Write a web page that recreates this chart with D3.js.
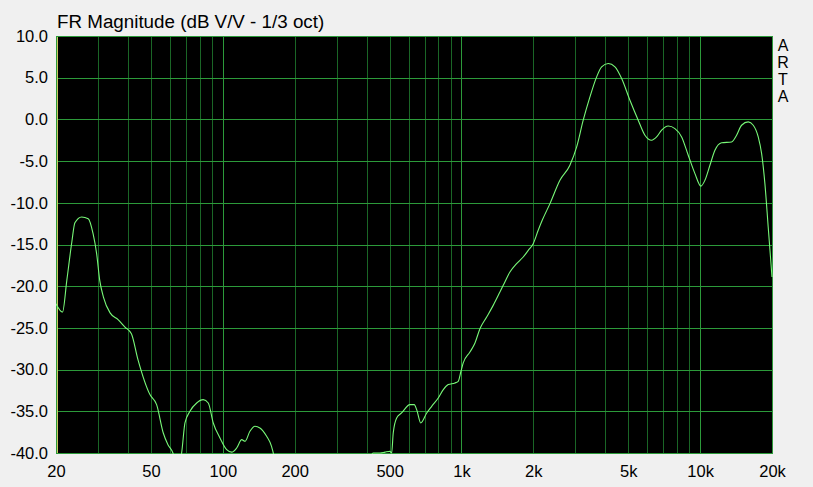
<!DOCTYPE html>
<html><head><meta charset="utf-8">
<script src="https://cdn.jsdelivr.net/npm/d3@7"></script>
<style>
html,body{margin:0;padding:0;background:#f0f0f0;}
svg{display:block;font-family:"Liberation Sans",Arial,sans-serif;}
</style></head>
<body>
<svg id="chart" width="813" height="487"></svg>
<script>
const title = "FR Magnitude (dB V/V - 1/3 oct)";
const sideLabel = ["A","R","T","A"];
const xTickValues = [20, 50, 100, 200, 500, 1000, 2000, 5000, 10000, 20000];
const xTickLabels = ["20","50","100","200","500","1k","2k","5k","10k","20k"];
const yTickValues = [10, 5, 0, -5, -10, -15, -20, -25, -30, -35, -40];
const yTickLabels = ["10.0","5.0","0.0","-5.0","-10.0","-15.0","-20.0","-25.0","-30.0","-35.0","-40.0"];

const freqs = [20, 21.3, 22.2, 23.3, 24.0, 25.6, 27.3, 28.6, 29.6, 30.5, 31.6, 33.7, 36.4, 38.9, 41.4, 44.1, 49.5, 52.8, 56.3, 58.9, 61.8, 64.5, 67.2, 69.4, 72.8, 77.7, 82.8, 86.9, 91.2, 97.3, 103.8, 108.9, 114.3, 120, 123.9, 129.9, 136.4, 143, 152.6, 160, 162.7, 180, 250, 350, 410, 425.6, 455.6, 478, 501, 509.8, 517.6, 535, 561, 608, 634, 649, 675, 715, 750, 799, 839, 880, 939, 969, 995, 1017, 1085, 1139, 1195, 1275, 1358, 1449, 1496, 1596, 1702, 1814, 1904, 1998, 2096, 2179, 2348, 2585, 2846, 3038, 3236, 3453, 3684, 3865, 4120, 4396, 4689, 5079, 5502, 5869, 6262, 6571, 6896, 7348, 7840, 8364, 8914, 9509, 10074, 10470, 10988, 11532, 12300, 13542, 14212, 14914, 15902, 16688, 17512, 18094, 18676, 19280, 20000];
const magnitudes = [-22.1, -23.1, -19.3, -14.7, -12.4, -11.7, -11.9, -13.7, -16.1, -19.3, -21.3, -23.2, -24.0, -24.9, -25.7, -28.8, -33.0, -34.2, -37.6, -39.0, -40.0, -42, -40.0, -36.4, -35.0, -34.0, -33.6, -34.0, -36.4, -38.2, -39.6, -39.9, -39.4, -38.4, -38.6, -37.4, -36.8, -37.0, -38.0, -39.2, -40.0, -42.5, -44, -43, -41, -40.0, -40.0, -39.9, -39.8, -40.0, -37.6, -35.8, -35.2, -34.2, -34.2, -34.8, -36.4, -35.2, -34.4, -33.4, -32.4, -31.8, -31.6, -31.4, -30.2, -29.2, -27.9, -26.8, -25.1, -23.7, -22.3, -20.7, -19.9, -18.3, -17.3, -16.5, -15.7, -14.9, -13.3, -12.1, -10.1, -7.3, -5.5, -3.3, -0.1, 2.7, 5.1, 6.3, 6.7, 6.3, 4.9, 2.3, -0.1, -1.9, -2.5, -2.1, -1.3, -0.8, -1.1, -2.1, -4.3, -6.5, -8.0, -7.3, -5.5, -3.7, -2.8, -2.7, -1.9, -0.7, -0.3, -0.7, -2.1, -4.1, -7.7, -12.9, -18.9];

const L = 56, R = 772, T = 36, B = 453;
const svg = d3.select("#chart");
const x = d3.scaleLog().domain([20, 20000]).range([L, R]);
const y = d3.scaleLinear().domain([-40, 10]).range([B, T]);

// plot background
svg.append("rect").attr("x", L).attr("y", T).attr("width", R - L).attr("height", B - T).attr("fill", "#000");

// vertical grid (1..9 per decade)
const vGrid = [];
for (let dec = 10; dec <= 10000; dec *= 10) for (let m = 1; m <= 9; m++) { const f = dec * m; if (f >= 20 && f <= 20000) vGrid.push(f); }
vGrid.push(20000);
const majors = new Set([100, 1000, 10000]);
svg.append("g").selectAll("line").data(vGrid).join("line")
  .attr("x1", d => Math.round(x(d)) + 0.5).attr("x2", d => Math.round(x(d)) + 0.5)
  .attr("y1", T).attr("y2", B)
  .attr("stroke", d => majors.has(d) ? "#2c9a3a" : "#1a6626").attr("stroke-width", 1);

// horizontal grid
svg.append("g").selectAll("line").data(yTickValues).join("line")
  .attr("x1", L).attr("x2", R)
  .attr("y1", d => Math.round(y(d)) + 0.5).attr("y2", d => Math.round(y(d)) + 0.5)
  .attr("stroke", "#2c9a3a").attr("stroke-width", 1);

// frame
svg.append("rect").attr("x", L + 0.5).attr("y", T + 0.5).attr("width", R - L).attr("height", B - T)
  .attr("fill", "none").attr("stroke", "#2c9a3a");
// yellow marker at left edge
svg.append("line").attr("x1", x(20) + 1.5).attr("x2", x(20) + 1.5).attr("y1", T + 1).attr("y2", B)
  .attr("stroke", "#c8c860").attr("stroke-width", 1);

// curve
svg.append("clipPath").attr("id", "clip").append("rect").attr("x", L).attr("y", T).attr("width", R - L + 1).attr("height", B - T + 1);
const data = freqs.map((f, i) => [f, magnitudes[i]]);
const line = d3.line().x(d => x(d[0])).y(d => y(d[1])).curve(d3.curveMonotoneX);
svg.append("path").datum(data).attr("d", line).attr("clip-path", "url(#clip)")
  .attr("fill", "none").attr("stroke", "#78f878").attr("stroke-width", 1.1);

// axes labels
const yAxis = d3.axisLeft(y).tickValues(yTickValues).tickFormat((d, i) => yTickLabels[i]).tickSize(0).tickPadding(8);
const gy = svg.append("g").attr("transform", `translate(${L},0)`).call(yAxis);
gy.select(".domain").remove();
gy.selectAll("text").attr("font-size", 16.5).attr("fill", "#000").attr("font-family", "Liberation Sans, Arial, sans-serif");

const xAxis = d3.axisBottom(x).tickValues(xTickValues).tickFormat((d, i) => xTickLabels[i]).tickSize(0).tickPadding(12);
const gx = svg.append("g").attr("transform", `translate(0,${B})`).call(xAxis);
gx.select(".domain").remove();
gx.selectAll("text").attr("font-size", 16.5).attr("fill", "#000").attr("font-family", "Liberation Sans, Arial, sans-serif");

// title
svg.append("text").attr("x", 57).attr("y", 28.3).attr("font-size", 18.8).attr("fill", "#000").text(title);
// side label
svg.append("g").selectAll("text").data(sideLabel).join("text")
  .attr("x", 783).attr("y", (d, i) => 50.7 + i * 17).attr("text-anchor", "middle")
  .attr("font-size", 16).attr("fill", "#000").text(d => d);
</script>
</body></html>
